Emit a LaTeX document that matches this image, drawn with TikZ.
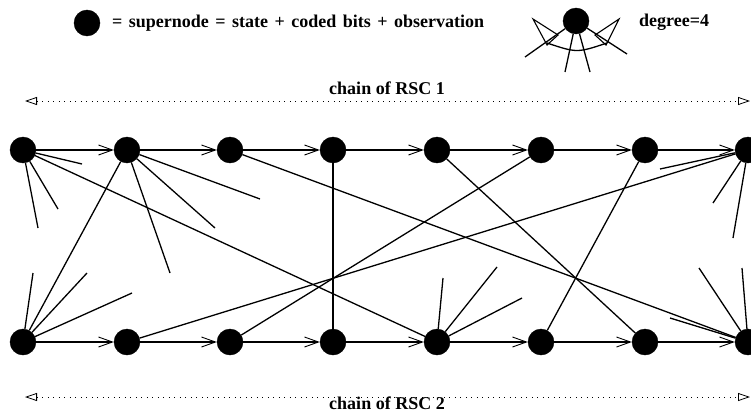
\documentclass[tikz,border=0pt]{standalone}
\usepackage{fontspec}
\setmainfont{Liberation Serif}
\usetikzlibrary{arrows.meta}
\begin{document}
\begin{tikzpicture}[x=1pt,y=-1pt,
  supernode/.style={circle,fill=black,draw=black,minimum size=26pt,inner sep=0pt},
  edge/.style={line width=1.3pt},
  chainarrow/.style={line width=1.2pt,-{Straight Barb[length=14pt,width=10pt,line width=0.9pt]}},
  chainspan/.style={line width=0.9pt,dash pattern=on 1pt off 4.5pt,
    {Triangle[open,length=12pt,width=8pt,line width=0.8pt]}-{Triangle[open,length=12pt,width=8pt,line width=0.8pt]}},
  lbl/.style={font=\fontsize{18}{20}\selectfont\bfseries,inner sep=0pt}]
\useasboundingbox (0,0) rectangle (751,412);

% legend
\node[supernode] (leg) at (87,23) {};
\node[lbl,anchor=west] (legtxt) at (112,23) {\spaceskip=6.5pt\relax = supernode = state + coded bits + observation};
\node[supernode] (deg) at (576,21) {};
\coordinate (d1) at (525,57);
\coordinate (d2) at (565,72);
\coordinate (d3) at (590,72);
\coordinate (d4) at (627,54);
\foreach \e in {d1,d2,d3,d4} \draw[edge] (deg) -- (\e);
\coordinate (arcl) at (547,43);
\coordinate (arcr) at (607,43);
\draw[edge] (arcl) .. controls (577,53) .. (arcr);
\draw[line width=1.1pt,line join=miter] (533,19) -- (547,45) -- (558,35) -- cycle;
\draw[line width=1.1pt,line join=miter] (619,19) -- (606,45) -- (595,35) -- cycle;
\node[lbl,anchor=west] (degtxt) at (639,22) {degree=4};

% two chains of supernodes
\foreach \i/\x in {1/23,2/127,3/230,4/333,5/437,6/541,7/645,8/748} {
  \node[supernode] (t\i) at (\x,150) {};
  \node[supernode] (b\i) at (\x,342) {};
}
\foreach \i [evaluate=\i as \j using int(\i+1)] in {1,...,7} {
  \draw[chainarrow] (t\i) -- (t\j);
  \draw[chainarrow] (b\i) -- (b\j);
}

% chain labels
\coordinate (c1l) at (25,101);
\coordinate (c1r) at (750,101);
\draw[chainspan] (c1l) -- (c1r);
\node[lbl,anchor=base] (c1txt) at (387,94) {chain of RSC 1};
\coordinate (c2l) at (25,397);
\coordinate (c2r) at (750,397);
\draw[chainspan] (c2l) -- (c2r);
\node[lbl,anchor=base] (c2txt) at (387,409) {chain of RSC 2};

% connections between the chains
\draw[edge] (t1) -- (b5);
\draw[edge] (t2) -- (b1);
\draw[edge] (t3) -- (b8);
\draw[edge] (t4) -- (b4);
\draw[edge] (t5) -- (b7);
\draw[edge] (t7) -- (b6);
\draw[edge] (b2) -- (t8);
\draw[edge] (b3) -- (t6);

% dangling connections
\coordinate (s1a) at (82,164);
\coordinate (s1b) at (58,209);
\coordinate (s1c) at (38,228);
\coordinate (s2a) at (170,273);
\coordinate (s2b) at (215,228);
\coordinate (s2c) at (260,199);
\coordinate (s8a) at (660,169);
\coordinate (s8b) at (713,203);
\coordinate (s8c) at (733,238);
\coordinate (r1a) at (33,273);
\coordinate (r1b) at (87,273);
\coordinate (r1c) at (132,293);
\coordinate (r5a) at (443,278);
\coordinate (r5b) at (497,267);
\coordinate (r5c) at (522,298);
\coordinate (r8a) at (670,318);
\coordinate (r8b) at (699,268);
\coordinate (r8c) at (742,268);
\foreach \e in {s1a,s1b,s1c} \draw[edge] (t1) -- (\e);
\foreach \e in {s2a,s2b,s2c} \draw[edge] (t2) -- (\e);
\foreach \e in {s8a,s8b,s8c} \draw[edge] (t8) -- (\e);
\foreach \e in {r1a,r1b,r1c} \draw[edge] (b1) -- (\e);
\foreach \e in {r5a,r5b,r5c} \draw[edge] (b5) -- (\e);
\foreach \e in {r8a,r8b,r8c} \draw[edge] (b8) -- (\e);
\end{tikzpicture}
\end{document}
